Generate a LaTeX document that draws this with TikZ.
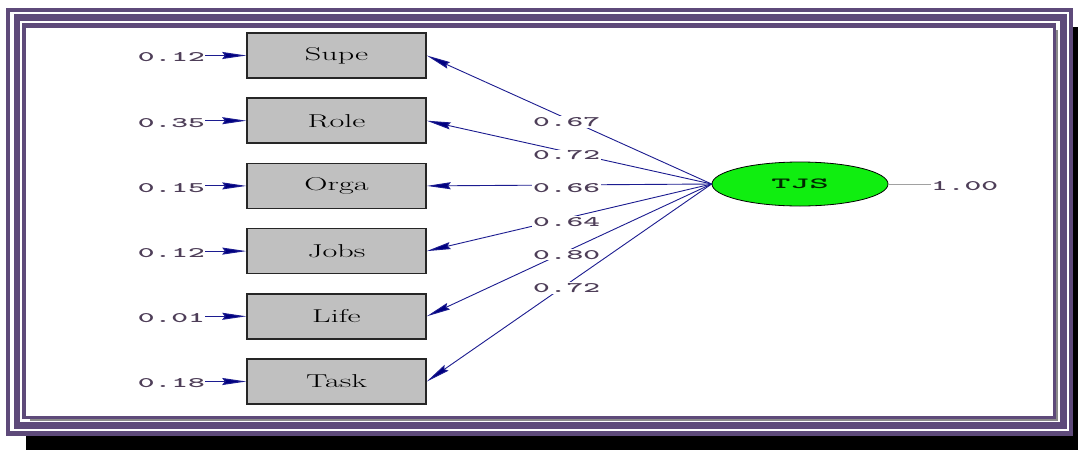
\documentclass[tikz,border=0pt]{standalone}
\usepackage{graphicx}
\usepackage{fontspec}
\usetikzlibrary{arrows.meta,shapes.geometric}

\definecolor{framepurple}{HTML}{5E4A7A}
\definecolor{pathnavy}{HTML}{1C1C90}
\definecolor{headnavy}{HTML}{000080}
\definecolor{boxgray}{HTML}{C0C0C0}
\definecolor{numcol}{HTML}{4E3E58}
\definecolor{latgreen}{HTML}{10EE10}
\definecolor{shadowgray}{HTML}{8A8A8A}

% wide, low monospaced figures and the wide serif names of the indicators
\newcommand\stretchnum[1]{{\ttfamily\bfseries\fontsize{14.5}{16}\selectfont\scalebox{2.2}[1]{#1}}}
\newcommand\stretchname[1]{{\fontsize{18.6}{20}\selectfont\scalebox{1.73}[1]{#1}}}
\newcommand\stretchlat[1]{{\ttfamily\bfseries\fontsize{15.5}{17}\selectfont\scalebox{2.35}[1]{#1}}}

\tikzset{
  indicator/.style={rectangle, draw=black!85, line width=1.5pt, fill=boxgray,
    minimum width=179pt, minimum height=45pt, inner sep=0pt, text=black},
  latentvar/.style={ellipse, draw=black, line width=0.8pt, fill=latgreen,
    minimum width=176pt, minimum height=44pt, inner sep=0pt, text=black!85!green},
  errlabel/.style={anchor=east, inner sep=0pt, text=numcol},
  headtip/.style={-{Stealth[length=24pt,width=7pt,inset=2.5pt,fill=headnavy]}},
  errarrow/.style={draw=pathnavy, line width=1pt, headtip},
  patharrow/.style={draw=pathnavy, line width=0.9pt, headtip},
  loadlabel/.style={fill=white, inner xsep=1pt, inner ysep=1pt, text=numcol,
    pos=0.509, yshift=-3.5pt},
}

\begin{document}
\begin{tikzpicture}[x=1pt,y=-1pt]
\useasboundingbox (0,0) rectangle (1078,450);

% layered frame with drop shadow
\fill[black] (26,27) rectangle (1078,450);
\fill[framepurple] (6,8) rectangle (1073,436);
\fill[white] (10,12) rectangle (1069,431);
\fill[framepurple] (14,14) rectangle (1067,429);
\fill[white] (20,21) rectangle (1060,422);
\fill[shadowgray] (30,30) rectangle (1058,421);
\fill[framepurple] (22,23) rectangle (1056,419);
\fill[white] (26,28) rectangle (1053,416);

% observed indicators
\node[indicator] (supe) at (336.5,55.5)  {\stretchname{Supe}};
\node[indicator] (role) at (336.5,120.7) {\stretchname{Role}};
\node[indicator] (orga) at (336.5,185.9) {\stretchname{Orga}};
\node[indicator] (jobs) at (336.5,251.1) {\stretchname{Jobs}};
\node[indicator] (life) at (336.5,316.3) {\stretchname{Life}};
\node[indicator] (task) at (336.5,381.5) {\stretchname{Task}};

% error variances
\node[errlabel] (esupe) at (205,57.5)  {\stretchnum{0.12}};
\node[errlabel] (erole) at (205,122.7) {\stretchnum{0.35}};
\node[errlabel] (eorga) at (205,187.9) {\stretchnum{0.15}};
\node[errlabel] (ejobs) at (205,253.1) {\stretchnum{0.12}};
\node[errlabel] (elife) at (205,318.3) {\stretchnum{0.01}};
\node[errlabel] (etask) at (205,383.5) {\stretchnum{0.18}};

\foreach \e/\v in {esupe/supe, erole/role, eorga/orga, ejobs/jobs, elife/life, etask/task}
  \draw[errarrow] (\e.east |- \v.west) -- (\v.west);

% latent factor
\node[latentvar] (tjs) at (800,184) {\stretchlat{TJS}};
\node[anchor=west, inner sep=0pt, text=numcol] (vtjs) at (931,186) {\stretchnum{1.00}};
\draw[shadowgray!80, line width=0.7pt] (tjs.east) -- (vtjs.west |- tjs.east);

% factor loadings
\draw[patharrow] (tjs.west) -- node[loadlabel] {\stretchnum{0.67}} (supe.east);
\draw[patharrow] (tjs.west) -- node[loadlabel] {\stretchnum{0.72}} (role.east);
\draw[patharrow] (tjs.west) -- node[loadlabel] {\stretchnum{0.66}} (orga.east);
\draw[patharrow] (tjs.west) -- node[loadlabel] {\stretchnum{0.64}} (jobs.east);
\draw[patharrow] (tjs.west) -- node[loadlabel] {\stretchnum{0.80}} (life.east);
\draw[patharrow] (tjs.west) -- node[loadlabel] {\stretchnum{0.72}} (task.east);
\end{tikzpicture}
\end{document}
